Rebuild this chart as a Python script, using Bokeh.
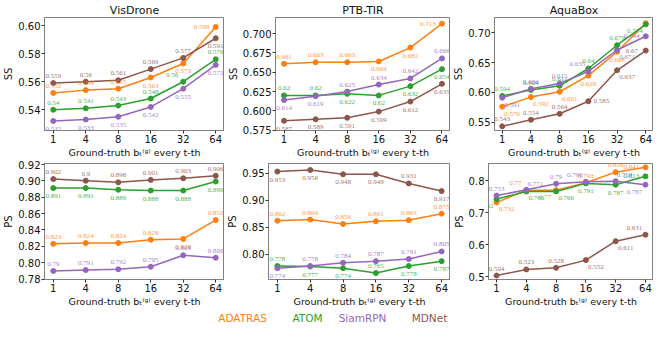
from bokeh.plotting import figure
from bokeh.layouts import column, row
from bokeh.models import Range1d, FixedTicker, ColumnDataSource, PrintfTickFormatter, LabelSet
from bokeh.embed import file_html
from bokeh.resources import INLINE
from bokeh.core.properties import value

# ---------------- data ----------------
x_labels = ["1", "4", "8", "16", "32", "64"]
trackers = ["ADATRAS", "ATOM", "SiamRPN", "MDNet"]
colors = ["#ff7f0e", "#2ca02c", "#9467bd", "#8c564b"]

# Success score (SS)
vis_ss_adatras = [0.552, 0.554, 0.555, 0.563, 0.573, 0.599]
vis_ss_atom = [0.54, 0.541, 0.543, 0.548, 0.56, 0.576]
vis_ss_siamrpn = [0.532, 0.533, 0.535, 0.542, 0.555, 0.572]
vis_ss_mdnet = [0.559, 0.56, 0.561, 0.569, 0.577, 0.591]

ptb_ss_adatras = [0.661, 0.663, 0.663, 0.664, 0.682, 0.713]
ptb_ss_atom = [0.62, 0.62, 0.622, 0.62, 0.632, 0.654]
ptb_ss_siamrpn = [0.614, 0.619, 0.625, 0.634, 0.642, 0.668]
ptb_ss_mdnet = [0.587, 0.589, 0.591, 0.599, 0.612, 0.635]

aqua_ss_adatras = [0.576, 0.592, 0.601, 0.628, 0.668, 0.716]
aqua_ss_atom = [0.594, 0.604, 0.611, 0.64, 0.679, 0.714]
aqua_ss_siamrpn = [0.591, 0.606, 0.615, 0.635, 0.671, 0.694]
aqua_ss_mdnet = [0.543, 0.554, 0.564, 0.585, 0.637, 0.67]

# Precision score (PS)
vis_ps_adatras = [0.823, 0.824, 0.824, 0.828, 0.829, 0.852]
vis_ps_atom = [0.891, 0.891, 0.889, 0.888, 0.888, 0.899]
vis_ps_siamrpn = [0.79, 0.791, 0.792, 0.795, 0.809, 0.806]
vis_ps_mdnet = [0.902, 0.9, 0.898, 0.901, 0.903, 0.906]

ptb_ps_adatras = [0.862, 0.864, 0.856, 0.861, 0.863, 0.875]
ptb_ps_atom = [0.778, 0.777, 0.774, 0.765, 0.778, 0.787]
ptb_ps_siamrpn = [0.774, 0.778, 0.784, 0.787, 0.791, 0.805]
ptb_ps_mdnet = [0.953, 0.956, 0.948, 0.948, 0.931, 0.917]

aqua_ps_adatras = [0.732, 0.77, 0.77, 0.793, 0.826, 0.841]
aqua_ps_atom = [0.742, 0.766, 0.766, 0.791, 0.787, 0.813]
aqua_ps_siamrpn = [0.753, 0.771, 0.79, 0.796, 0.798, 0.787]
aqua_ps_mdnet = [0.504, 0.523, 0.528, 0.552, 0.611, 0.631]
# label texts as printed in the reference (one differs from its point)
aqua_ps_siamrpn_text = ["0.753", "0.771", "0.79", "0.796", "0.758", "0.787"]

# y tick labels
vis_ss_ticks = [0.54, 0.56, 0.58, 0.60]
ptb_ss_ticks = [0.575, 0.600, 0.625, 0.650, 0.675, 0.700]
aqua_ss_ticks = [0.55, 0.60, 0.65, 0.70]
vis_ps_ticks = [0.78, 0.80, 0.82, 0.84, 0.86, 0.88, 0.90, 0.92]
ptb_ps_ticks = [0.80, 0.85, 0.90, 0.95]
aqua_ps_ticks = [0.5, 0.6, 0.7, 0.8]

# ---------------- style ----------------
FONT = "DejaVu Sans"
# (dx, dy) in screen px, dy positive = up
OFF = {'a': (0, 7), 'b': (0, -8), 'l': (-14, 0), 'r': (13, 0),
       'br': (10, -7), 'bl': (-11, -7), 'al': (-11, 7), 'ar': (9, 6)}
XLABEL = "Ground-truth b\u209c\u207d\u1d4d\u207e every t-th"
FRAME = "#808080"


def make_panel(title, ylabel, series, places, texts, yrange, yticks, fmt,
               width, height, bl, br, bt):
    p = figure(width=width, height=height, output_backend="svg",
               toolbar_location=None, title=title,
               x_range=Range1d(-0.27, 5.27), y_range=Range1d(*yrange),
               min_border_left=bl, min_border_right=br,
               min_border_top=bt, min_border_bottom=0)
    if title:
        p.title.text_font = FONT
        p.title.text_font_size = "11px"
        p.title.text_font_style = "normal"
        p.title.align = "center"
        p.title.standoff = 2
        p.title.text_color = "#111111"
    p.grid.visible = False
    p.outline_line_color = FRAME
    p.outline_line_width = 1
    p.background_fill_color = "white"
    p.border_fill_color = "white"

    xs = list(range(len(x_labels)))
    p.xaxis.ticker = FixedTicker(ticks=xs)
    p.xaxis.major_label_overrides = {i: s for i, s in enumerate(x_labels)}
    p.yaxis.ticker = FixedTicker(ticks=yticks)
    p.yaxis.formatter = PrintfTickFormatter(format=fmt)
    for ax in (p.xaxis, p.yaxis):
        ax.axis_line_color = FRAME
        ax.major_tick_line_color = "#333333"
        ax.major_tick_out = 3
        ax.major_tick_in = 0
        ax.minor_tick_line_color = None
        ax.major_label_text_font = FONT
        ax.major_label_text_font_size = "10px"
        ax.major_label_text_color = "#111111"
        ax.axis_label_text_font = FONT
        ax.axis_label_text_font_style = "normal"
        ax.axis_label_text_color = "#111111"
        ax.major_label_standoff = 1
    p.xaxis.axis_label = XLABEL
    p.xaxis.axis_label_text_font_size = "9.5px"
    p.xaxis.axis_label_standoff = 1
    p.yaxis.axis_label = ylabel
    p.yaxis.axis_label_text_font_size = "10px"
    p.yaxis.axis_label_standoff = 1

    for vals, col, pl, tx in zip(series, colors, places, texts):
        labels = tx if tx is not None else [f"{v:g}" for v in vals]
        src = ColumnDataSource(dict(
            x=xs, y=vals, t=labels,
            xo=[OFF[k][0] for k in pl], yo=[OFF[k][1] for k in pl]))
        p.line('x', 'y', source=src, line_color=col, line_width=1.5)
        p.scatter('x', 'y', source=src, size=5, fill_color=col, line_color=col)
        p.add_layout(LabelSet(x='x', y='y', text='t', source=src,
                              x_offset='xo', y_offset='yo',
                              text_color=col, text_alpha=0.85, text_font=FONT,
                              text_font_size="7px", text_align="center",
                              text_baseline="middle"))
    return p


TOP_H, BOT_H, LEG_H = 160, 149, 16
W1, W2, W3 = 224, 226, 203

p1 = make_panel("VisDrone", "SS",
                [vis_ss_adatras, vis_ss_atom, vis_ss_siamrpn, vis_ss_mdnet],
                [['a', 'a', 'a', 'b', 'b', 'l'], ['a', 'a', 'a', 'a', 'al', 'a'],
                 ['b'] * 6, ['a', 'a', 'a', 'a', 'a', 'b']],
                [None] * 4, (0.5252, 0.6058), vis_ss_ticks, "%.2f",
                W1, TOP_H, 36, 0, 0)
p2 = make_panel("PTB-TIR", "SS",
                [ptb_ss_adatras, ptb_ss_atom, ptb_ss_siamrpn, ptb_ss_mdnet],
                [['a', 'a', 'a', 'b', 'b', 'l'], ['a', 'a', 'b', 'b', 'b', 'b'],
                 ['b', 'b', 'a', 'a', 'a', 'a'], ['b'] * 6],
                [None] * 4, (0.5745, 0.721), ptb_ss_ticks, "%.3f",
                W2, TOP_H, 36, 0, 0)
p3 = make_panel("AquaBox", "SS",
                [aqua_ss_adatras, aqua_ss_atom, aqua_ss_siamrpn, aqua_ss_mdnet],
                [['br', 'br', 'br', 'b', 'b', 'al'], ['a', 'a', 'a', 'a', 'a', 'bl'],
                 ['br', 'a', 'a', 'al', 'br', 'l'], ['a', 'a', 'a', 'r', 'br', 'l']],
                [None] * 4, (0.536, 0.7255), aqua_ss_ticks, "%.2f",
                W3, TOP_H, 34, 0, 0)
p4 = make_panel(None, "PS",
                [vis_ps_adatras, vis_ps_atom, vis_ps_siamrpn, vis_ps_mdnet],
                [['a', 'a', 'a', 'a', 'b', 'a'], ['b'] * 6, ['a'] * 6, ['a'] * 6],
                [None] * 4, (0.7795, 0.921), vis_ps_ticks, "%.2f",
                W1, BOT_H, 36, 0, 3)
p5 = make_panel(None, "PS",
                [ptb_ps_adatras, ptb_ps_atom, ptb_ps_siamrpn, ptb_ps_mdnet],
                [['a'] * 6, ['a', 'b', 'b', 'a', 'b', 'b'],
                 ['b', 'a', 'a', 'a', 'a', 'a'], ['b', 'b', 'b', 'b', 'a', 'b']],
                [None] * 4, (0.753, 0.968), ptb_ps_ticks, "%.2f",
                W2, BOT_H, 36, 0, 3)
p6 = make_panel(None, "PS",
                [aqua_ps_adatras, aqua_ps_atom, aqua_ps_siamrpn, aqua_ps_mdnet],
                [['br', 'al', 'bl', 'a', 'a', 'l'], ['bl', 'br', 'br', 'b', 'b', 'l'],
                 ['a', 'ar', 'a', 'al', 'ar', 'bl'], ['a', 'a', 'a', 'br', 'br', 'al']],
                [None, None, aqua_ps_siamrpn_text, None],
                (0.4916, 0.853), aqua_ps_ticks, "%.1f",
                W3, BOT_H, 34, 0, 3)

# legend strip (coloured names only)
LW = W1 + W2 + W3
leg = figure(width=LW, height=LEG_H, output_backend="svg",
             toolbar_location=None, x_range=Range1d(0, LW),
             y_range=Range1d(0, 1), min_border=0)
leg.axis.visible = False
leg.grid.visible = False
leg.outline_line_color = None
leg_x = [242, 307, 362, 429]
leg.text(x=leg_x, y=[0.5] * 4, text=trackers, text_color=colors,
         text_font=value(FONT), text_font_size=value("10.5px"),
         text_align="center", text_baseline="middle")

layout = column(row(p1, p2, p3), row(p4, p5, p6), leg, spacing=0)
open("out.html", "w").write(file_html(layout, INLINE))
